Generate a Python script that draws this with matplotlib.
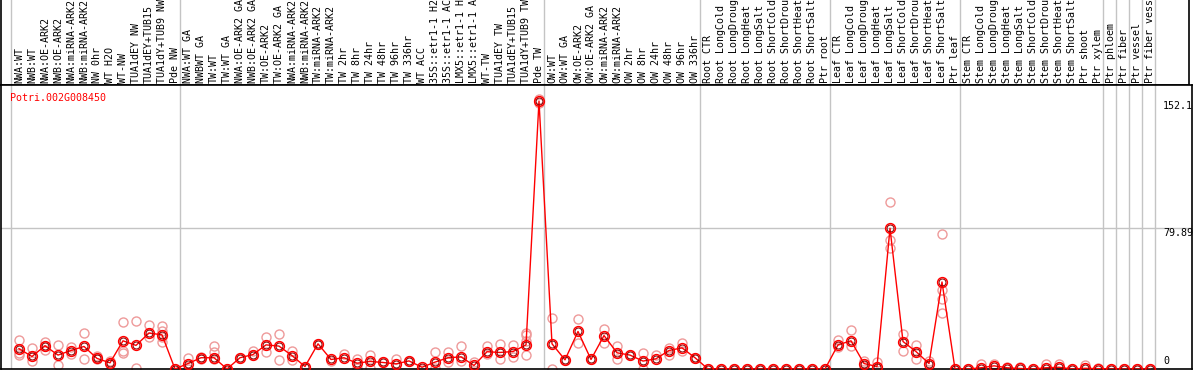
import numpy as np
import matplotlib
matplotlib.use('Agg')
import matplotlib.pyplot as plt

# Sample labels (one column each)
labels = [
    'NWA:WT', 'NWB:WT', 'NWA:OE-ARK2', 'NWB:OE-ARK2', 'NWA:miRNA-ARK2', 'NWB:miRNA-ARK2',
    'NW 0hr', 'WT H2O', 'WT-NW', 'TUA1dEY NW', 'TUA1dEY+TUB15', 'TUA1dY+TUB9 NW', 'Pde NW',
    'NWA:WT GA', 'NWBWT GA', 'TW:WT', 'TW:WT GA', 'NWA:OE-ARK2 GA', 'NWB:OE-ARK2 GA',
    'TW:OE-ARK2', 'TW:OE-ARK2 GA', 'NWA:miRNA-ARK2', 'NWB:miRNA-ARK2', 'TW:miRNA-ARK2',
    'TW:miRNA-ARK2', 'TW 2hr', 'TW 8hr', 'TW 24hr', 'TW 48hr', 'TW 96hr', 'TW 336hr',
    'WT ACC', '35S::etr1-1 H2O', '35S::etr1-1 ACC', 'LMX5::etr1-1 H2O', 'LMX5::etr1-1 ACC',
    'WT-TW', 'TUA1dEY TW', 'TUA1dEY+TUB15', 'TUA1dY+TUB9 TW', 'Pde TW',
    'OW:WT', 'OW:WT GA', 'OW:OE-ARK2', 'OW:OE-ARK2 GA', 'OW:miRNA-ARK2', 'OW:miRNA-ARK2',
    'OW 2hr', 'OW 8hr', 'OW 24hr', 'OW 48hr', 'OW 96hr', 'OW 336hr',
    'Root CTR', 'Root LongCold', 'Root LongDrought', 'Root LongHeat', 'Root LongSalt',
    'Root ShortCold', 'Root ShortDrought', 'Root ShortHeat', 'Root ShortSalt', 'Ptr root',
    'Leaf CTR', 'Leaf LongCold', 'Leaf LongDrought', 'Leaf LongHeat', 'Leaf LongSalt',
    'Leaf ShortCold', 'Leaf ShortDrought', 'Leaf ShortHeat', 'Leaf ShortSalt', 'Ptr leaf',
    'Stem CTR', 'Stem LongCold', 'Stem LongDrought', 'Stem LongHeat', 'Stem LongSalt',
    'Stem ShortCold', 'Stem ShortDrought', 'Stem ShortHeat', 'Stem ShortSalt',
    'Ptr shoot', 'Ptr xylem', 'Ptr phloem', 'Ptr fiber', 'Ptr vessel', 'Ptr fiber vessel',
]

# mean expression per sample
means = [
    11.5, 7.1, 13.2, 7.9, 10.5, 12.8, 6.0, 3.5, 16.0, 13.4, 20.4, 19.4, 0.0,
    3.1, 6.4, 6.4, 0.0, 6.4, 8.2, 13.7, 13.0, 7.6, 1.4, 14.3, 5.4, 6.4, 3.3, 4.3,
    3.7, 2.9, 4.6, 1.0, 3.9, 6.4, 6.9, 2.0, 9.8, 9.4, 9.9, 13.7, 152.1,
    14.3, 5.2, 21.3, 5.4, 19.0, 9.2, 7.9, 4.5, 5.8, 10.5, 12.0, 6.4,
    0, 0, 0, 0, 0, 0, 0, 0, 0, 0,
    13.7, 16.0, 3.1, 1.4, 79.89, 15.6, 9.9, 3.1, 49.4, 0.0,
    0.0, 0.7, 1.8, 0.7, 0.3, 0.0, 0.7, 1.0, 0.0, 0.4, 0.2,
    0, 0, 0, 0,
]

# individual replicates per sample
reps = [
    [16.6, 9.0, 7.7], [12.2, 4.8], [15.6, 13.2, 11.0], [13.9, 2.0], [12.4, 8.6],
    [20.2, 5.8], [7.5, 6.4, 5.8], [4.8, 3.1], [26.6, 10.5, 9.2], [27.2, 0.4],
    [24.7, 18.1], [24.5, 21.5, 18.1, 15.2], [0.0],
    [6.5, 0.0], [6.6, 5.8], [13.0, 9.6, 5.8], [0.0], [6.4], [10.0, 8.0],
    [18.1, 9.9], [20.0, 5.2], [10.0, 5.0], [1.4], [14.3], [4.8], [8.7],
    [5.4, 0.6], [7.9, 0.6], [3.7], [5.8], [4.6], [0.0], [9.6, 0.6], [9.9, 4.2],
    [13.2, 4.6], [4.2], [13.0, 8.5], [14.0, 5.4], [13.7, 7.0],
    [20.4, 19.4, 16.0, 8.2], [153.5, 151.0],
    [29.1, 0.0], [5.2], [28.5, 14.7], [5.4], [22.8, 14.9], [13.0, 5.6], [7.9],
    [9.2, 0.0], [8.1], [11.8, 8.2], [14.7, 10.1], [6.4],
    [0], [0], [0], [0], [0], [0], [0], [0], [0], [0],
    [16.2, 12.4], [22.3, 12.8], [4.6, 1.9], [3.7, 1.0], [94.8, 73.4, 68.9],
    [20.0, 10.1], [13.7, 5.4], [4.8], [76.5, 45.0, 39.5, 32.0], [0],
    [0], [3.1], [3.1], [1.4], [1.0], [0], [2.9], [3.1], [0], [2.0], [0.6],
    [0], [0], [0], [0],
]

# group boundaries (column index where a new group starts)
separators = [0, 13, 41, 53, 63, 73, 84, 85, 86, 87, 88]
ytick_vals = [152.1, 79.89, 0]
gene = 'Potri.002G008450'

W, H = 1194, 370
fig = plt.figure(figsize=(W / 100, H / 100), dpi=100)
fig.patch.set_facecolor('white')

mono = 'DejaVu Sans Mono'
fs = 7.2

# pixel -> data mapping for x: column i centred at 19 + 13*i px
xl = ((1 - 19) / 13, (1192 - 19) / 13)

head = fig.add_axes([1 / W, 285 / H, 1188 / W, 85 / H])
ax = fig.add_axes([1 / W, 1 / H, 1191 / W, 284 / H])

for a in (head, ax):
    a.set_xlim((1 - 19) / 13, (1192 - 19) / 13)
    a.set_xticks([])
    a.set_yticks([])
    for s in a.spines.values():
        s.set_color('black')
        s.set_linewidth(1.2)
    for k in separators:
        a.axvline(k - 8 / 13, color='#c4c4c4', lw=1.0, zorder=0)
head.set_xlim((1 - 19) / 13, (1189 - 19) / 13)
head.spines['top'].set_visible(False)
head.set_ylim(0, 1)

x = np.arange(len(labels))
for i, lab in enumerate(labels):
    head.text(i, 2 / 85, lab, rotation=90, ha='center', va='bottom',
              family=mono, fontsize=fs, color='black')

ymax = 161.2
ax.set_ylim(0, ymax)
ax.axhline(79.89, color='#c4c4c4', lw=1.0, zorder=0)

# replicates
for i, r in enumerate(reps):
    ax.plot([i] * len(r), r, 'o', ms=6.5, mfc='none', mec='#ee9a9a', mew=1.0, zorder=2)

ax.plot(x, means, '-', color='red', lw=1.0, zorder=3)
ax.plot(x, means, 'o', ms=5.0, mfc='none', mec='#7a0000', mew=0.7, zorder=4)
ax.plot(x, means, 'o', ms=7.0, mfc='none', mec='red', mew=1.1, zorder=5)

tx = (1163 - 19) / 13
ax.text(tx, 152.1, '152.1', ha='left', va='top', family=mono, fontsize=fs)
ax.text(tx, 79.89, '79.89', ha='left', va='top', family=mono, fontsize=fs)
ax.text(tx, 1.5, '0', ha='left', va='bottom', family=mono, fontsize=fs)

ax.text(9 / 1191, 1 - 8 / 284, gene, transform=ax.transAxes, ha='left', va='top',
        family=mono, fontsize=fs, color='red')

fig.savefig('out.png', dpi=100)
